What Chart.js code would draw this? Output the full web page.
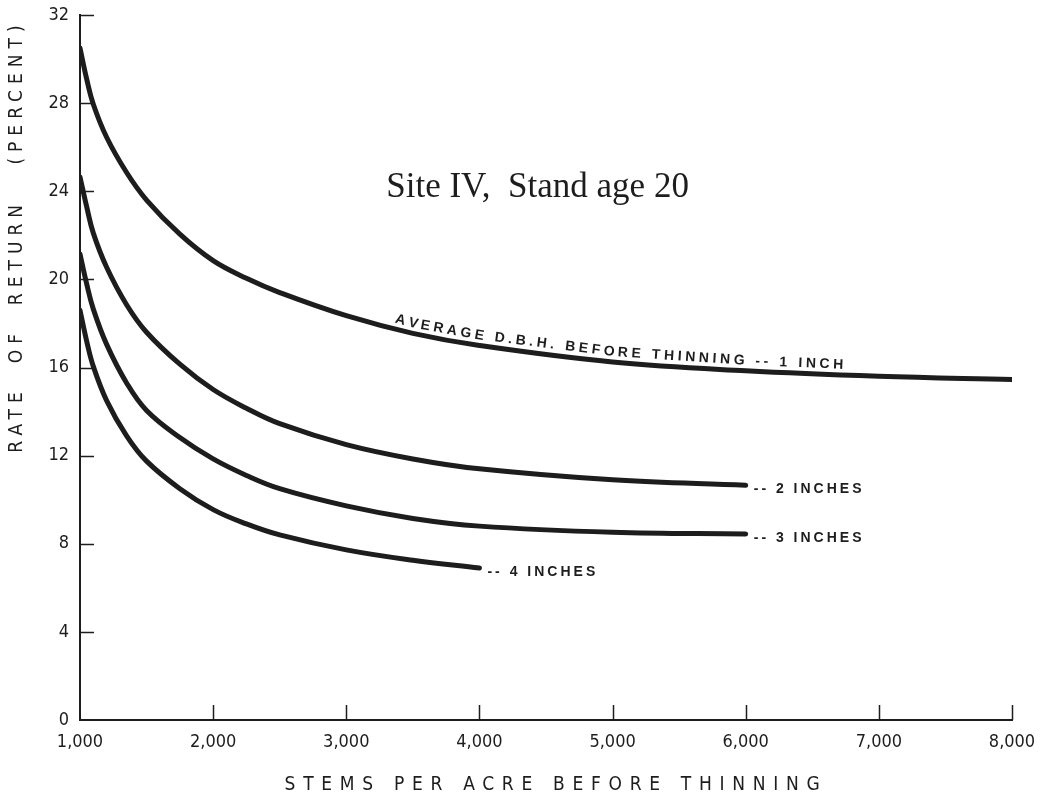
<!DOCTYPE html>
<html>
<head>
<meta charset="utf-8">
<script src="https://cdn.jsdelivr.net/npm/chart.js@4.4.1/dist/chart.umd.min.js"></script>
<style>
  html, body { margin: 0; padding: 0; background: #fff; }
  #wrap { width: 1042px; height: 798px; }
</style>
</head>
<body>
<div id="wrap"><canvas id="chart" width="1042" height="798"></canvas></div>
<script>
// stems per acre before thinning (x) and rate of return in percent (y)
const stems = [1000, 1050, 1100, 1200, 1350, 1500, 1750, 2000, 2250, 2500, 3000, 3500, 4000, 5000, 6000, 7000, 8000];
const oneInch = [30.5, 29.1, 27.95, 26.45, 24.85, 23.6, 22.05, 20.85, 20.05, 19.4, 18.35, 17.55, 17.0, 16.25, 15.85, 15.6, 15.45];
const twoInches = [24.65, 23.3, 22.1, 20.55, 18.85, 17.6, 16.15, 15.0, 14.15, 13.45, 12.5, 11.85, 11.4, 10.9, 10.65];
const threeInches = [21.15, 19.8, 18.65, 17.05, 15.3, 14.05, 12.82, 11.85, 11.1, 10.5, 9.72, 9.15, 8.8, 8.52, 8.44];
const fourInches = [18.6, 17.2, 16.05, 14.5, 12.9, 11.75, 10.5, 9.55, 8.9, 8.4, 7.72, 7.25, 6.9];

const xTickLabels = ['1,000', '2,000', '3,000', '4,000', '5,000', '6,000', '7,000', '8,000'];
const yTickLabels = ['0', '4', '8', '12', '16', '20', '24', '28', '32'];

const seriesLabels = ['AVERAGE D.B.H. BEFORE THINNING -- 1 INCH', '-- 2 INCHES', '-- 3 INCHES', '-- 4 INCHES'];
const chartTitle = 'Site IV,  Stand age 20';
const xTitle = 'STEMS PER ACRE BEFORE THINNING';
const yTitle = 'RATE  OF  RETURN   (PERCENT)';

const ink = '#1d1d1d';
const narrow = "'Liberation Sans Narrow', 'DejaVu Sans Condensed', sans-serif";

function toPoints(values) {
    return values.map((v, i) => ({ x: stems[i], y: v }));
}

function curve(values) {
    return {
        data: toPoints(values),
        borderColor: ink,
        borderWidth: 5,
        borderCapStyle: 'round',
        borderJoinStyle: 'round',
        pointRadius: 0,
        fill: false,
        tension: 0.4
    };
}

// y on the drawn line at pixel x, from the dataset's own point elements
function lineAt(meta, px) {
    const pts = meta.data;
    for (let i = 0; i < pts.length - 1; i++) {
        const a = pts[i], b = pts[i + 1];
        if (px >= a.x && px <= b.x) {
            const t = (px - a.x) / (b.x - a.x);
            return { y: a.y + t * (b.y - a.y), angle: Math.atan2(b.y - a.y, b.x - a.x) };
        }
    }
    const last = pts[pts.length - 1];
    return { y: last.y, angle: 0 };
}

function noPadding(s) {
    s.paddingTop = 0;
    s.paddingBottom = 0;
    s.paddingLeft = 0;
    s.paddingRight = 0;
}

const decorations = {
    id: 'decorations',
    afterDraw(chart) {
        const ctx = chart.ctx;
        const xs = chart.scales.x, ys = chart.scales.y;
        const area = chart.chartArea;

        // inward tick marks
        ctx.save();
        ctx.strokeStyle = ink;
        ctx.lineWidth = 1.5;
        ctx.beginPath();
        xs.ticks.forEach(t => {
            if (t.value === xs.min) return;
            const px = Math.round(xs.getPixelForValue(t.value)) + 0.5;
            ctx.moveTo(px, area.bottom);
            ctx.lineTo(px, area.bottom - 15);
        });
        ys.ticks.forEach(t => {
            if (t.value === ys.min) return;
            const py = Math.round(ys.getPixelForValue(t.value)) + 0.5;
            ctx.moveTo(area.left, py);
            ctx.lineTo(area.left + 14, py);
        });
        ctx.stroke();
        ctx.restore();

        // chart title
        ctx.save();
        ctx.fillStyle = ink;
        ctx.font = "35px 'Liberation Serif', serif";
        ctx.textBaseline = 'alphabetic';
        ctx.fillText(chartTitle, xs.getPixelForValue(3300), ys.getPixelForValue(23.75));
        ctx.restore();

        // axis titles
        ctx.save();
        ctx.fillStyle = ink;
        ctx.font = '19px ' + narrow;
        ctx.textAlign = 'center';
        ctx.textBaseline = 'middle';
        ctx.letterSpacing = '7.7px';
        ctx.fillText(xTitle, (area.left + area.right) / 2 + 10, 785);
        ctx.letterSpacing = '6px';
        ctx.translate(17, 236);
        ctx.rotate(-Math.PI / 2);
        ctx.fillText(yTitle, 0, 0);
        ctx.restore();

        // label running along the 1 inch curve
        ctx.save();
        ctx.fillStyle = ink;
        ctx.font = "bold 14px 'Liberation Sans', sans-serif";
        ctx.textBaseline = 'alphabetic';
        const meta0 = chart.getDatasetMeta(0);
        let px = xs.getPixelForValue(3360);
        for (const ch of seriesLabels[0]) {
            const w = ctx.measureText(ch).width;
            const mid = lineAt(meta0, px + w / 2);
            ctx.save();
            ctx.translate(px + w / 2, mid.y - 6);
            ctx.rotate(mid.angle);
            ctx.fillText(ch, -w / 2, 0);
            ctx.restore();
            px += (w + 3.6) * Math.cos(mid.angle);
        }
        ctx.restore();

        // end labels for the other curves
        ctx.save();
        ctx.fillStyle = ink;
        ctx.font = "bold 14px 'Liberation Sans', sans-serif";
        ctx.letterSpacing = '3px';
        ctx.textBaseline = 'middle';
        [1, 2, 3].forEach(i => {
            const pts = chart.getDatasetMeta(i).data;
            const end = pts[pts.length - 1];
            ctx.fillText(seriesLabels[i], end.x + 8, end.y + 4);
        });
        ctx.restore();
    }
};

new Chart(document.getElementById('chart'), {
    type: 'line',
    data: {
        datasets: [curve(oneInch), curve(twoInches), curve(threeInches), curve(fourInches)]
    },
    options: {
        responsive: false,
        animation: false,
        devicePixelRatio: 1,
        layout: { padding: { top: 15, right: 30, left: 0, bottom: 0 } },
        plugins: { legend: { display: false }, tooltip: { enabled: false } },
        scales: {
            x: {
                type: 'linear',
                min: 1000,
                max: 8000,
                afterFit: s => { s.height = 78; noPadding(s); },
                border: { display: true, color: ink, width: 2 },
                grid: { drawOnChartArea: false, drawTicks: false },
                ticks: {
                    stepSize: 1000,
                    padding: 12,
                    color: ink,
                    font: { family: narrow, size: 18 },
                    callback: v => xTickLabels[(v - 1000) / 1000]
                }
            },
            y: {
                min: 0,
                max: 32,
                afterFit: s => { s.width = 80; noPadding(s); },
                border: { display: true, color: ink, width: 2 },
                grid: { drawOnChartArea: false, drawTicks: false },
                ticks: {
                    stepSize: 4,
                    padding: 11,
                    color: ink,
                    font: { family: narrow, size: 18 },
                    callback: v => yTickLabels[v / 4]
                }
            }
        }
    },
    plugins: [decorations]
});
</script>
</body>
</html>
